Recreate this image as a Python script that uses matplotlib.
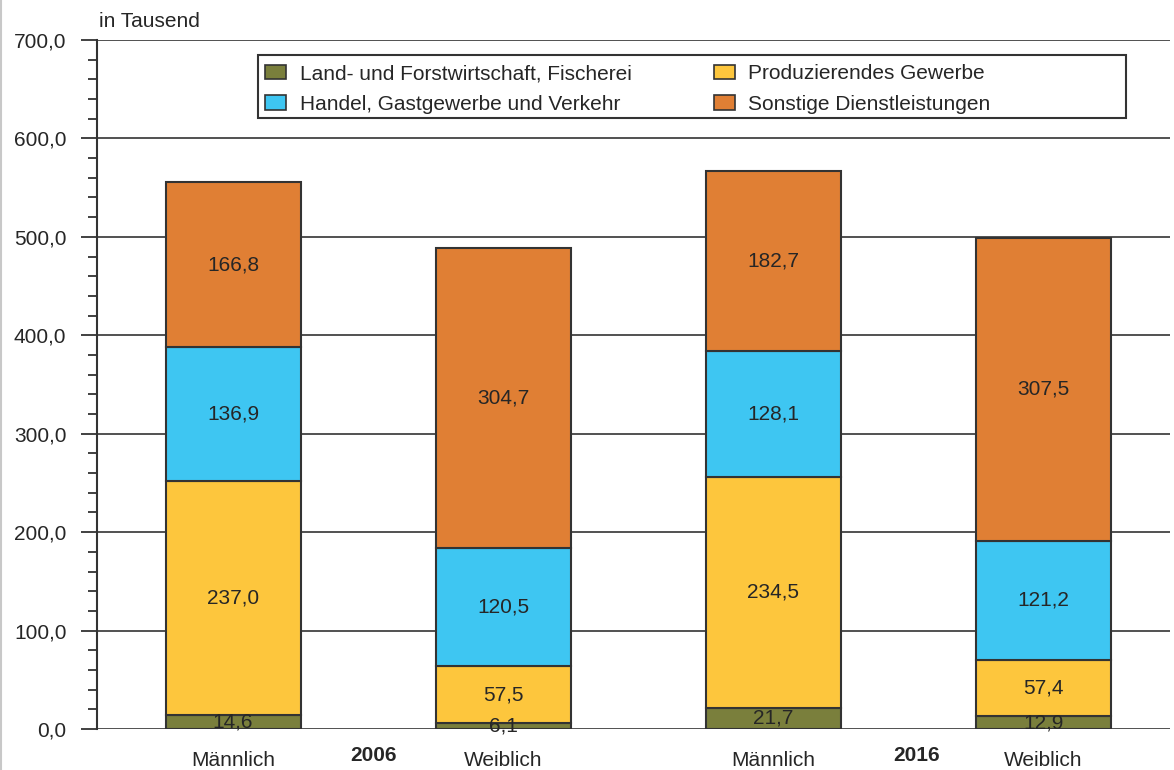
import matplotlib
matplotlib.use("Agg")
import matplotlib.pyplot as plt
from matplotlib.ticker import MultipleLocator, FuncFormatter
from matplotlib.patches import Patch, Rectangle
from matplotlib.lines import Line2D

plt.rcParams['font.family'] = ['Liberation Sans', 'DejaVu Sans']

bar_labels = ["Männlich", "Weiblich", "Männlich", "Weiblich"]
years = ["2006", "2016"]
series_names = ["Land- und Forstwirtschaft, Fischerei", "Produzierendes Gewerbe",
                "Handel, Gastgewerbe und Verkehr", "Sonstige Dienstleistungen"]
land = [14.6, 6.1, 21.7, 12.9]
prod = [237.0, 57.5, 234.5, 57.4]
handel = [136.9, 120.5, 128.1, 121.2]
sonst = [166.8, 304.7, 182.7, 307.5]
colors = ["#7a7f3c", "#fdc63d", "#3ec6f2", "#e07f34"]

txt = "#262626"
fs = 15
fig = plt.figure(figsize=(11.74, 7.70), dpi=100)
ax = fig.add_axes([97/1174, 1-729/770, (1170-97)/1174, (729-40)/770])

x = [0, 1, 2, 3]
bottom = [0, 0, 0, 0]
for vals, col in zip([land, prod, handel, sonst], colors):
    ax.bar(x, vals, width=0.5, bottom=bottom, color=col, edgecolor="#333333",
           linewidth=1.5, zorder=3)
    for xi, b, v in zip(x, bottom, vals):
        ax.text(xi, b + v/2, f"{v:.1f}".replace(".", ","), ha="center", va="center",
                fontsize=fs, color=txt, zorder=4)
    bottom = [b + v for b, v in zip(bottom, vals)]

ax.set_xlim(-0.504, 3.47)
ax.set_ylim(0, 700)
ax.yaxis.set_major_locator(MultipleLocator(100))
ax.yaxis.set_minor_locator(MultipleLocator(20))
ax.yaxis.set_major_formatter(FuncFormatter(lambda v, p: f"{v:.1f}".replace(".", ",")))
ax.tick_params(axis="y", which="major", length=11.5, width=1.3, color="#333333",
               labelsize=fs, labelcolor=txt, pad=10.5)
ax.tick_params(axis="y", which="minor", length=6.5, width=1.3, color="#333333")
ax.grid(axis="y", which="major", color="#333333", linewidth=1.2, zorder=0)
ax.set_axisbelow(True)
for s in ["top", "right", "bottom"]:
    ax.spines[s].set_visible(False)
ax.spines["left"].set_color("#333333")
ax.spines["left"].set_linewidth(1.5)

ax.set_xticks(x)
ax.set_xticklabels(bar_labels, fontsize=fs, color=txt)
ax.tick_params(axis="x", length=0, pad=16)

for xp, yr in zip([0.52, 2.53], years):
    ax.text(xp, -27, yr, ha="center", va="center", fontsize=fs, fontweight="bold",
            color=txt)

ax.text(0.002, 1 + 13/689, "in Tausend", transform=ax.transAxes, fontsize=fs,
        color=txt, ha="left", va="baseline")

# legend frame (wider than its content, as in the original)
fig.add_artist(Rectangle((258/1174, 1-118/770), (1126-258)/1174, (118-55)/770,
                         transform=fig.transFigure, facecolor="white",
                         edgecolor="#333333", linewidth=1.5, zorder=5))

order = [0, 2, 1, 3]
handles = [Patch(facecolor=colors[i], edgecolor="#333333", linewidth=1.2) for i in order]
labels = [series_names[i] for i in order]
leg = fig.legend(handles, labels, ncol=2, loc="upper left",
                 bbox_to_anchor=(258/1174, 1-57/770),
                 fontsize=fs, frameon=False,
                 handlelength=1.0, handleheight=0.67,
                 handletextpad=0.65, borderaxespad=0, labelspacing=0.55,
                 borderpad=0.35, columnspacing=3.95)
leg.set_zorder(6)
for t in leg.get_texts():
    t.set_color(txt)

fig.add_artist(Line2D([0.001, 0.001], [0, 1], color="#c8c8c8", linewidth=1.5,
                      transform=fig.transFigure))

fig.savefig("out.png", dpi=100)
